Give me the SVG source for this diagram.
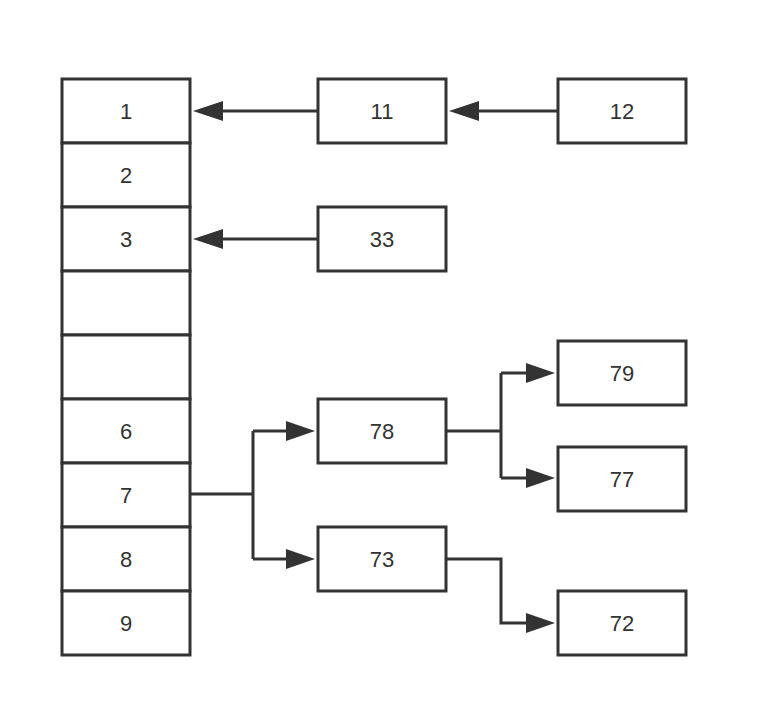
<svg xmlns="http://www.w3.org/2000/svg" width="760" height="722" viewBox="0 0 760 722">
<defs>
<marker id="ah" markerWidth="10" markerHeight="7" refX="9.5" refY="3.5" orient="auto" markerUnits="userSpaceOnUse" viewBox="0 0 10 7">
</marker>
<style>
.b{fill:#fff;stroke:#333;stroke-width:3}
.t{font-family:"Liberation Sans",Arial,sans-serif;font-size:22px;fill:#333;text-anchor:middle;dominant-baseline:central}
.c{fill:none;stroke:#333;stroke-width:3}
.h{fill:#333}
</style>
</defs>
<rect width="760" height="722" fill="#fff"/>
<g id="col">
<g id="n1"><rect class="b" x="62" y="79" width="128" height="64"/><text class="t" x="126" y="111">1</text></g>
<g id="n2"><rect class="b" x="62" y="143" width="128" height="64"/><text class="t" x="126" y="175">2</text></g>
<g id="n3"><rect class="b" x="62" y="207" width="128" height="64"/><text class="t" x="126" y="239">3</text></g>
<g id="n4"><rect class="b" x="62" y="271" width="128" height="64"/></g>
<g id="n5"><rect class="b" x="62" y="335" width="128" height="64"/></g>
<g id="n6"><rect class="b" x="62" y="399" width="128" height="64"/><text class="t" x="126" y="431">6</text></g>
<g id="n7"><rect class="b" x="62" y="463" width="128" height="64"/><text class="t" x="126" y="495">7</text></g>
<g id="n8"><rect class="b" x="62" y="527" width="128" height="64"/><text class="t" x="126" y="559">8</text></g>
<g id="n9"><rect class="b" x="62" y="591" width="128" height="64"/><text class="t" x="126" y="623">9</text></g>
</g>
<g id="n11"><rect class="b" x="318" y="79" width="128" height="64"/><text class="t" x="382" y="111">11</text></g>
<g id="n12"><rect class="b" x="558" y="79" width="128" height="64"/><text class="t" x="622" y="111">12</text></g>
<g id="n33"><rect class="b" x="318" y="207" width="128" height="64"/><text class="t" x="382" y="239">33</text></g>
<g id="n78"><rect class="b" x="318" y="399" width="128" height="64"/><text class="t" x="382" y="431">78</text></g>
<g id="n73"><rect class="b" x="318" y="527" width="128" height="64"/><text class="t" x="382" y="559">73</text></g>
<g id="n79"><rect class="b" x="558" y="341" width="128" height="64"/><text class="t" x="622" y="373">79</text></g>
<g id="n77"><rect class="b" x="558" y="447" width="128" height="64"/><text class="t" x="622" y="479">77</text></g>
<g id="n72"><rect class="b" x="558" y="591" width="128" height="64"/><text class="t" x="622" y="623">72</text></g>
<g id="connectors">
<path class="c" d="M318 111H222"/>
<polygon class="h" points="193,111 223,101 223,121"/>
<path class="c" d="M558 111H478"/>
<polygon class="h" points="449,111 479,101 479,121"/>
<path class="c" d="M318 239H222"/>
<polygon class="h" points="193,239 223,229 223,249"/>
<path class="c" d="M190 494H253M253 431V559M253 431H288M253 559H288"/>
<polygon class="h" points="315,431 286,421 286,441"/>
<polygon class="h" points="315,559 286,549 286,569"/>
<path class="c" d="M446 431H501M501 373V478M501 373H528M501 478H528"/>
<polygon class="h" points="555,373 526,363 526,383"/>
<polygon class="h" points="555,478 526,468 526,488"/>
<path class="c" d="M446 559H501V623H528"/>
<polygon class="h" points="555,623 526,613 526,633"/>
</g>
</svg>
